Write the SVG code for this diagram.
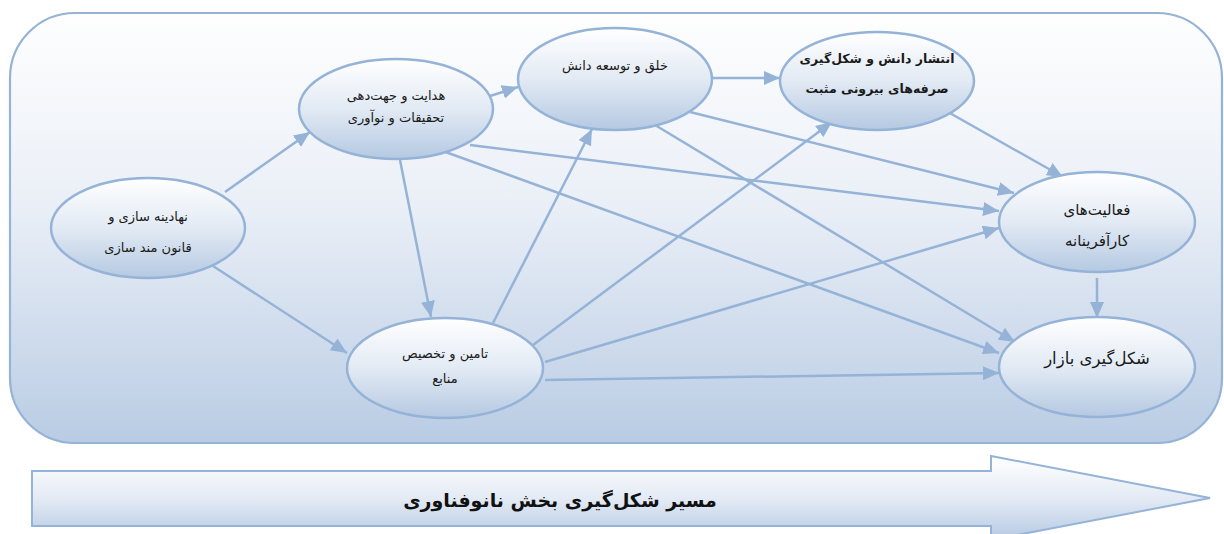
<svg xmlns="http://www.w3.org/2000/svg" width="1224" height="534" viewBox="0 0 1224 534">
<style>
.bg{fill:url(#bgGrad);stroke:#95b3d7;stroke-width:2.2}
.node{fill:url(#nodeGrad);stroke:#95b3d7;stroke-width:2.5}
.conn{stroke:#95b3d7;stroke-width:2.5;fill:none;marker-end:url(#arrow)}
.t{font-family:"DejaVu Sans",sans-serif;font-size:13px;fill:#1a1a1a;text-anchor:middle;direction:rtl}
.tb{font-weight:bold;font-size:12.5px}
.big{font-size:15px}
.title{font-family:"DejaVu Sans",sans-serif;font-size:19px;font-weight:bold;fill:#111;text-anchor:middle;direction:rtl}
</style>
<defs>
<linearGradient id="bgGrad" x1="0" y1="0" x2="0" y2="1">
<stop offset="0" stop-color="#fefefe"/>
<stop offset="0.45" stop-color="#eaeff7"/>
<stop offset="1" stop-color="#b9cce4"/>
</linearGradient>
<linearGradient id="nodeGrad" x1="0" y1="0" x2="0" y2="1">
<stop offset="0" stop-color="#ffffff"/>
<stop offset="0.5" stop-color="#e2eaf4"/>
<stop offset="1" stop-color="#b5c9e2"/>
</linearGradient>
<linearGradient id="arrGrad" x1="0" y1="0" x2="0" y2="1">
<stop offset="0" stop-color="#ffffff"/>
<stop offset="0.5" stop-color="#e4ebf5"/>
<stop offset="1" stop-color="#b5c9e2"/>
</linearGradient>
<marker id="arrow" markerUnits="userSpaceOnUse" markerWidth="17" markerHeight="14" refX="16" refY="7" orient="auto">
<path d="M0,0 L16,7 L0,14 z" fill="#95b3d7"/>
</marker>
</defs>
<rect class="bg" x="10" y="13" width="1212" height="430" rx="65" ry="65"/>
<g id="connectors">
<line class="conn" x1="225" y1="192" x2="310" y2="132"/>
<line class="conn" x1="213" y1="266" x2="347" y2="353"/>
<line class="conn" x1="487" y1="97" x2="518" y2="87"/>
<line class="conn" x1="400" y1="160" x2="431" y2="317"/>
<line class="conn" x1="470" y1="145" x2="999" y2="211"/>
<line class="conn" x1="440" y1="150" x2="999" y2="353"/>
<line class="conn" x1="713" y1="78" x2="780" y2="78"/>
<line class="conn" x1="690" y1="112" x2="1014" y2="193"/>
<line class="conn" x1="655" y1="125" x2="1015" y2="342"/>
<line class="conn" x1="948" y1="112" x2="1063" y2="177"/>
<line class="conn" x1="493" y1="323" x2="592" y2="129"/>
<line class="conn" x1="533" y1="345" x2="832" y2="122"/>
<line class="conn" x1="545" y1="362" x2="999" y2="228"/>
<line class="conn" x1="545" y1="380" x2="999" y2="373"/>
<line class="conn" x1="1097" y1="278" x2="1097" y2="318"/>
</g>
<g id="n1">
<ellipse class="node" cx="148" cy="228" rx="97" ry="50"/>
<text class="t" x="148" y="221">نهادینه سازی و</text>
<text class="t" x="148" y="252">قانون مند سازی</text>
</g>
<g id="n2">
<ellipse class="node" cx="396" cy="109" rx="97" ry="50"/>
<text class="t" x="396" y="100">هدایت و جهت‌دهی</text>
<text class="t" x="396" y="122">تحقیقات و نوآوری</text>
</g>
<g id="n3">
<ellipse class="node" cx="615" cy="79" rx="97" ry="51"/>
<text class="t" x="615" y="70">خلق و توسعه دانش</text>
</g>
<g id="n4">
<ellipse class="node" cx="877" cy="81" rx="97" ry="49"/>
<text class="t tb" x="877" y="63">انتشار دانش و شکل‌گیری</text>
<text class="t tb" x="877" y="93">صرفه‌های بیرونی مثبت</text>
</g>
<g id="n5">
<ellipse class="node" cx="1097" cy="222" rx="98" ry="50"/>
<text class="t big" x="1097" y="215">فعالیت‌های</text>
<text class="t big" x="1097" y="246">کارآفرینانه</text>
</g>
<g id="n6">
<ellipse class="node" cx="1097" cy="367" rx="98" ry="50"/>
<text class="t" style="font-size:16.5px" x="1097" y="364">شکل‌گیری بازار</text>
</g>
<g id="n7">
<ellipse class="node" cx="445" cy="368" rx="98" ry="50"/>
<text class="t" x="445" y="358">تامین و تخصیص</text>
<text class="t" x="445" y="383">منابع</text>
</g>
<g id="bottom-arrow">
<path d="M32,471 L991,471 L991,456 L1210,498 L991,540 L991,526 L32,526 Z" fill="url(#arrGrad)" stroke="#95b3d7" stroke-width="2"/>
<text class="title" x="560" y="507">مسیر شکل‌گیری بخش نانوفناوری</text>
</g>
</svg>
